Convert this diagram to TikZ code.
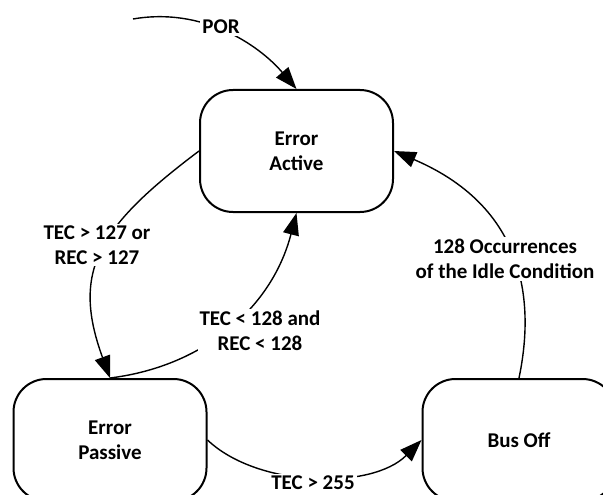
\documentclass[tikz,border=0pt]{standalone}
\usepackage{fontspec}
\setmainfont{Carlito}
\usetikzlibrary{arrows.meta}
\begin{document}
\begin{tikzpicture}[x=1pt,y=-1pt,
  state/.style={draw, line width=2pt, rounded corners=33pt,
    minimum width=193pt, minimum height=122pt, align=center,
    font=\fontsize{21}{25}\selectfont\bfseries, inner sep=0pt},
  conn/.style={line width=1.4pt, -{Triangle[length=22pt,width=16pt]}},
  lbl/.style={fill=white, align=center,
    font=\fontsize{21}{25}\selectfont\bfseries, inner sep=2pt}]
\useasboundingbox (0,0) rectangle (603,495);
\clip (0,0) rectangle (603,495);

\node[state] (ea) at (296.5,151) {Error\\Active};
\node[state] (ep) at (110,440) {Error\\Passive};
\node[state] (bo) at (519,440) {Bus Off};

\coordinate (porstart) at (133,19);

\draw[conn] (porstart) .. controls (202,7) and (258,44) .. (ea.north)
  node[lbl] (porlbl) at (221,27) {POR};

\draw[conn] (ea.west) .. controls (98,227) and (71,271) .. (ep.north)
  node[lbl] (l1) at (97,245) {TEC > 127 or\\REC > 127};

\draw[conn] (ep.north) .. controls (200,367) and (271,311) .. (ea.south)
  node[lbl] (l2) at (260,331) {TEC < 128 and\\REC < 128};

\draw[conn] (ep.east) .. controls (258,488) and (372,490) .. (bo.west)
  node[lbl] (l3) at (313,483) {TEC > 255};

\draw[conn] (bo.north) .. controls (533,311) and (532,210) .. (ea.east)
  node[lbl] (l4) at (505,259) {128 Occurrences\\of the Idle Condition};
\end{tikzpicture}
\end{document}
